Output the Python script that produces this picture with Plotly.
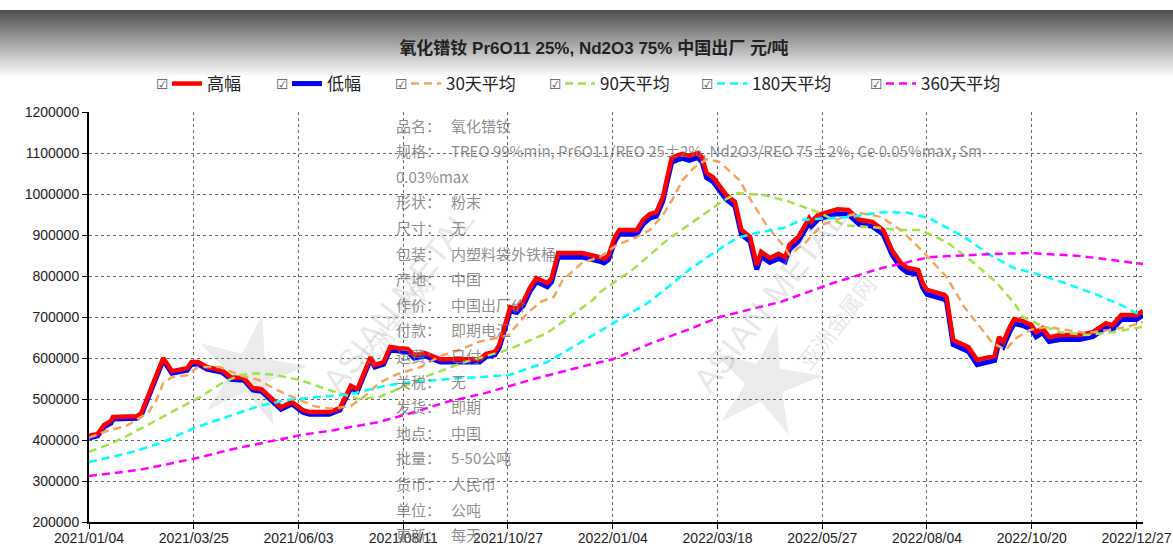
import math
import plotly.graph_objects as go

# ---------------- data (x = trading-day index from 2021/01/04) ----------------
tick_idx = [0, 48, 96, 144, 192, 240, 288, 336, 384, 432, 480]
tick_labels = ["2021/01/04", "2021/03/25", "2021/06/03", "2021/08/11", "2021/10/27",
               "2022/01/04", "2022/03/18", "2022/05/27", "2022/08/04", "2022/10/20", "2022/12/27"]

hl_idx = [0, 4, 7, 10, 11, 22, 24, 34, 38, 43, 45, 47, 50, 54, 61, 65, 71, 75, 79, 88,
          93, 98, 101, 110, 115, 120, 123, 129, 131, 135, 138, 142, 146, 149, 154, 161, 179, 182, 186, 188,
          193, 196, 199, 202, 205, 210, 212, 215, 226, 234, 236, 238, 241, 243, 251, 254, 257, 260, 263, 265,
          267, 270, 272, 275, 279, 281, 283, 286, 290, 292, 296, 299, 303, 306, 308, 312, 316, 319, 321, 325,
          330, 331, 334, 338, 343, 348, 353, 359, 364, 368, 372, 375, 380, 382, 384, 392, 393, 396, 398, 403,
          407, 412, 415, 417, 419, 422, 424, 428, 432, 434, 437, 440, 445, 454, 460, 466, 469, 473, 480, 483]
high = [410000, 415000, 437000, 446000, 456000, 458000, 466000, 600000, 568000, 573000,
        575000, 590000, 590000, 578000, 570000, 553000, 551000, 527000, 524000, 480000,
        493000, 473000, 468000, 468000, 478000, 532000, 524000, 602000, 583000, 590000,
        627000, 624000, 622000, 607000, 612000, 597000, 597000, 610000, 615000, 632000,
        724000, 720000, 737000, 771000, 795000, 783000, 795000, 856000, 856000, 846000,
        842000, 850000, 895000, 912000, 912000, 937000, 951000, 956000, 993000, 1041000,
        1088000, 1095000, 1098000, 1093000, 1100000, 1088000, 1051000, 1041000, 1015000, 998000,
        981000, 912000, 895000, 827000, 859000, 844000, 854000, 846000, 876000, 895000,
        941000, 932000, 949000, 956000, 963000, 961000, 937000, 932000, 912000, 863000,
        832000, 820000, 815000, 783000, 766000, 754000, 748000, 644000, 639000, 627000,
        595000, 602000, 605000, 651000, 639000, 676000, 695000, 690000, 680000, 663000,
        673000, 651000, 656000, 656000, 663000, 685000, 680000, 705000, 705000, 715000]
low = [405000, 410000, 432000, 441000, 451000, 453000, 461000, 595000, 563000, 568000,
       570000, 585000, 585000, 573000, 565000, 548000, 546000, 522000, 519000, 475000,
       488000, 468000, 463000, 463000, 473000, 527000, 519000, 597000, 578000, 585000,
       620000, 617000, 615000, 600000, 605000, 590000, 590000, 603000, 608000, 625000,
       715000, 711000, 728000, 762000, 786000, 774000, 786000, 846000, 846000, 836000,
       832000, 840000, 885000, 902000, 902000, 927000, 941000, 946000, 983000, 1031000,
       1077000, 1084000, 1087000, 1082000, 1089000, 1077000, 1040000, 1030000, 1004000, 987000,
       970000, 901000, 884000, 816000, 848000, 833000, 843000, 835000, 865000, 884000,
       930000, 921000, 938000, 945000, 952000, 950000, 926000, 921000, 901000, 852000,
       821000, 809000, 804000, 772000, 755000, 743000, 737000, 633000, 628000, 616000,
       584000, 591000, 594000, 640000, 628000, 665000, 684000, 679000, 669000, 652000,
       662000, 640000, 645000, 645000, 652000, 674000, 669000, 694000, 694000, 704000]

ma30_idx = [0, 8, 17, 27, 31, 34, 38, 45, 50, 60, 69, 78, 86, 95, 103, 110, 120, 127, 133, 141,
            152, 161, 170, 179, 192, 201, 207, 213, 217, 226, 234, 242, 251, 257, 263, 268, 272, 277, 283, 289,
            298, 304, 311, 318, 321, 328, 336, 346, 353, 363, 372, 380, 387, 393, 401, 408, 414, 420, 425, 431,
            439, 448, 457, 467, 476, 483]
ma30 = [405000, 422000, 434000, 466000, 498000, 539000, 553000, 558000, 578000, 578000,
        558000, 546000, 522000, 502000, 483000, 476000, 483000, 510000, 539000, 560000,
        578000, 605000, 620000, 640000, 655000, 710000, 737000, 749000, 790000, 832000,
        846000, 876000, 895000, 912000, 949000, 993000, 1034000, 1063000, 1085000, 1078000,
        1034000, 978000, 920000, 875000, 852000, 880000, 925000, 944000, 954000, 944000,
        912000, 871000, 832000, 798000, 725000, 676000, 637000, 620000, 649000, 668000,
        676000, 668000, 661000, 668000, 676000, 688000]

ma90_idx = [0, 11, 20, 31, 42, 51, 61, 69, 77, 86, 97, 106, 114, 124, 133, 156, 171, 192, 210, 231,
            234, 249, 265, 280, 291, 297, 309, 321, 334, 346, 359, 372, 381, 393, 405, 416, 424, 428, 436, 445,
            457, 469, 483]
ma90 = [371000, 393000, 417000, 449000, 480000, 505000, 539000, 558000, 563000, 558000,
        546000, 529000, 515000, 500000, 505000, 558000, 588000, 620000, 661000, 742000,
        760000, 815000, 888000, 944000, 985000, 1002000, 998000, 981000, 956000, 924000,
        919000, 912000, 912000, 883000, 834000, 783000, 734000, 700000, 680000, 663000,
        656000, 663000, 676000]

ma180_idx = [0, 20, 34, 48, 63, 78, 91, 106, 120, 133, 143, 170, 192, 210, 225, 240, 256, 262, 275, 288,
             297, 306, 318, 327, 340, 349, 364, 375, 385, 401, 413, 424, 433, 446, 462, 473, 479, 482]
ma180 = [346000, 371000, 395000, 429000, 456000, 483000, 498000, 505000, 512000, 529000,
         539000, 551000, 558000, 590000, 637000, 685000, 734000, 759000, 815000, 863000,
         893000, 905000, 917000, 937000, 941000, 944000, 956000, 954000, 941000, 895000,
         851000, 819000, 807000, 785000, 754000, 729000, 712000, 705000]

ma360_idx = [0, 23, 36, 51, 66, 82, 97, 112, 127, 133, 149, 164, 182, 202, 225, 240, 259, 274, 289, 317,
             341, 363, 385, 401, 416, 431, 454, 469, 483]
ma360 = [312000, 327000, 341000, 358000, 378000, 395000, 412000, 424000, 437000, 444000,
         468000, 493000, 515000, 546000, 578000, 597000, 639000, 668000, 700000, 737000,
         783000, 819000, 846000, 851000, 854000, 856000, 849000, 839000, 829000]

series_names = ["高幅", "低幅", "30天平均", "90天平均", "180天平均", "360天平均"]

info_labels = ["品名", "规格", "", "形状", "尺寸", "包装", "产地", "作价", "付款", "运费",
               "关税", "发货", "地点", "批量", "货币", "单位", "更新"]
info_values = ["氧化镨钕",
               "TREO 99%min, Pr6O11/REO 25±2%, Nd2O3/REO 75±2%, Ce 0.05%max, Sm",
               "0.03%max", "粉末", "无", "内塑料袋外铁桶", "中国", "中国出厂价", "即期电汇", "已付",
               "无", "即期", "中国", "5-50公吨", "人民币", "公吨", "每天"]

title_text = "氧化镨钕 Pr6O11 25%, Nd2O3 75% 中国出厂 元/吨"

# ---------------- layout geometry helpers ----------------
W, H = 1173, 545
L, R, T, B = 89, 30, 112, 23
PW, PH = W - L - R, H - T - B


def px(xp):
    return (xp - L) / PW


def py(yp):
    return (H - B - yp) / PH


CJK = "Noto Sans CJK SC, Liberation Sans, sans-serif"
ARIAL = "Liberation Sans, Arial, sans-serif"

fig = go.Figure()

dash_style = "8px,5px"
legend_ids = ["legend", "legend2", "legend3", "legend4", "legend5", "legend6"]
fig.add_trace(go.Scatter(x=hl_idx, y=low, name=series_names[1], mode="lines", legend=legend_ids[1],
                         line=dict(color="#0000FF", width=5)))
fig.add_trace(go.Scatter(x=hl_idx, y=high, name=series_names[0], mode="lines", legend=legend_ids[0],
                         line=dict(color="#FF0000", width=4.5)))
fig.add_trace(go.Scatter(x=ma30_idx, y=ma30, name=series_names[2], mode="lines", legend=legend_ids[2],
                         line=dict(color="#F0A860", width=2.5, dash=dash_style)))
fig.add_trace(go.Scatter(x=ma90_idx, y=ma90, name=series_names[3], mode="lines", legend=legend_ids[3],
                         line=dict(color="#A6E04A", width=2.5, dash=dash_style)))
fig.add_trace(go.Scatter(x=ma180_idx, y=ma180, name=series_names[4], mode="lines", legend=legend_ids[4],
                         line=dict(color="#00FFFF", width=2.5, dash=dash_style)))
fig.add_trace(go.Scatter(x=ma360_idx, y=ma360, name=series_names[5], mode="lines", legend=legend_ids[5],
                         line=dict(color="#FF00FF", width=2.5, dash=dash_style)))

shapes = []
# header gradient band
n = 34
for i in range(n):
    g = int(80 + (255 - 80) * i / (n - 1))
    y0 = 10 + 2 * i
    shapes.append(dict(type="rect", xref="paper", yref="paper", x0=px(0), x1=px(W),
                       y0=py(y0 + 2.2), y1=py(y0), line=dict(width=0),
                       fillcolor=f"rgb({g},{g},{g})", layer="below"))


def star(cx, cy, r_out, r_in, rot):
    pts = []
    for k in range(10):
        r = r_out if k % 2 == 0 else r_in
        a = math.radians(rot + k * 36)
        pts.append((cx + r * math.sin(a), cy - r * math.cos(a)))
    d = "M " + " L ".join(f"{px(xx):.5f},{py(yy):.5f}" for xx, yy in pts) + " Z"
    return dict(type="path", xref="paper", yref="paper", path=d,
                fillcolor="rgba(190,190,190,0.30)", line=dict(width=0), layer="below")


shapes.append(star(250, 372, 58, 20, 12))
shapes.append(star(765, 382, 58, 20, 12))

annotations = []
# watermark text
for cx, cy, cx2, cy2 in [(312, 300, 345, 322), (855, 300, 885, 322)]:
    annotations.append(dict(x=px(cx), y=py(cy), xref="paper", yref="paper", text="ASIAN METAL",
                            showarrow=False, textangle=-52,
                            font=dict(family=ARIAL, size=34, color="rgba(170,170,170,0.30)")))
    annotations.append(dict(x=px(cx2), y=py(cy2), xref="paper", yref="paper", text="亚洲金属网",
                            showarrow=False, textangle=-52,
                            font=dict(family=CJK, size=22, color="rgba(170,170,170,0.30)")))

# info text block
NB = "\u00a0"
for i, (lab, val) in enumerate(zip(info_labels, info_values)):
    line = (lab + "：" + NB * 3 + val) if lab else val
    annotations.append(dict(x=px(394), y=py(125 + 25.6 * i), xref="paper", yref="paper",
                            text=line, showarrow=False, xanchor="left", yanchor="middle",
                            font=dict(family=CJK, size=15, color="rgba(120,120,120,0.85)")))

# legend entries: text start positions (px) -> legend boxes; checkboxes just left of symbols
legend_text_x = [207, 327, 446, 600, 752, 921]
for tx in legend_text_x:
    annotations.append(dict(x=px(tx - 45), y=py(84), xref="paper", yref="paper", text="☑",
                            showarrow=False, xanchor="center", yanchor="middle",
                            font=dict(family="DejaVu Sans", size=14, color="#555555")))

legend_layout = {}
for lid, tx in zip(legend_ids, legend_text_x):
    legend_layout[lid] = dict(orientation="h", x=px(tx - 40), xanchor="left", y=py(84), yanchor="middle",
                              font=dict(family=CJK, size=17, color="#222222"),
                              bgcolor="rgba(0,0,0,0)", itemwidth=30)

fig.update_layout(
    width=W, height=H,
    margin=dict(l=L, r=R, t=T, b=B, pad=0, autoexpand=False),
    paper_bgcolor="white", plot_bgcolor="white",
    title=dict(text=f"<b>{title_text}</b>", x=594 / W, xanchor="center", xref="container",
               y=1 - 48 / H, yanchor="middle", yref="container",
               font=dict(family="Liberation Sans, Noto Sans CJK SC, sans-serif", size=17, color="#222222")),
    showlegend=True,
    xaxis=dict(range=[0, 483], tickmode="array", tickvals=tick_idx, ticktext=tick_labels,
               showgrid=True, gridcolor="#666666", griddash="dot", gridwidth=1, automargin=False,
               showline=True, linecolor="black", linewidth=2, ticks="outside", ticklen=5,
               tickcolor="black", tickwidth=1, zeroline=False, ticklabelstandoff=-3,
               tickfont=dict(family=ARIAL, size=14, color="#222222")),
    yaxis=dict(range=[200000, 1200000], dtick=100000, tick0=200000, tickformat="d",
               showgrid=True, gridcolor="#666666", griddash="dot", gridwidth=1, automargin=False,
               showline=True, linecolor="black", linewidth=2, ticks="outside", ticklen=5,
               tickcolor="black", tickwidth=1, zeroline=False,
               tickfont=dict(family=ARIAL, size=14, color="#222222")),
    shapes=shapes,
    annotations=annotations,
    hovermode="x",
    **legend_layout,
)

fig.write_html("out.html", config={"displayModeBar": False},
               post_script="document.body.style.margin='0px';document.body.style.padding='0px';"
                           "document.documentElement.style.overflow='hidden';")
